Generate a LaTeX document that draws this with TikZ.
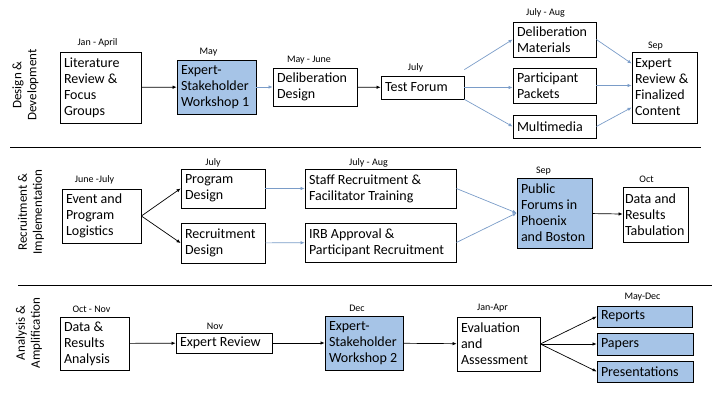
\documentclass[tikz,border=0pt]{standalone}
\usepackage{fontspec}
\setmainfont{Carlito}
\usetikzlibrary{arrows.meta,positioning}
\definecolor{wsblue}{RGB}{166,196,231}
\definecolor{flowblue}{RGB}{122,156,200}

\begin{document}
\begin{tikzpicture}[x=1pt, y=-1pt, font=\fontsize{14}{16}\selectfont]
\tikzstyle{box}=[rectangle, draw, line width=0.8pt, inner xsep=4pt, inner ysep=0pt, align=flush left, fill=white]
\tikzstyle{ws}=[box, fill=wsblue]
\tikzstyle{when}=[font=\fontsize{10}{12}\selectfont, inner sep=1pt]
\tikzstyle{phase}=[rotate=90, align=flush center, font=\fontsize{13}{15}\selectfont]
\tikzstyle{go}=[-{Latex[length=4pt,width=3.5pt]}, line width=0.7pt]
\tikzstyle{goblue}=[go, draw=flowblue]
\useasboundingbox (0,0) rectangle (720,405);

% Design & Development
\node[phase] (p1) at (25.5,85) {Design \&\\Development};
\node[box, text width=73pt, minimum height=71pt] (lit) at (100.5,87.5) {Literature\\Review \&\\Focus\\Groups};
\node[ws, text width=71pt, minimum height=54pt] (ws1) at (216.5,87) {Expert-\\Stakeholder\\Workshop 1};
\node[box, text width=76pt, minimum height=38pt] (dd) at (315,87) {Deliberation\\Design};
\node[box, text width=75pt, minimum height=23pt] (tf) at (422.5,87.5) {Test Forum};
\node[box, text width=75pt, minimum height=35pt] (dm) at (554.5,39.5) {Deliberation\\Materials};
\node[box, text width=75pt, minimum height=35pt] (pp) at (554.5,85.5) {Participant\\Packets};
\node[box, text width=75pt, minimum height=23pt] (mm) at (554.5,126.5) {Multimedia};
\node[box, text width=59pt, inner xsep=3pt, minimum height=71pt] (er) at (664.5,87.5) {Expert\\Review \&\\Finalized\\Content};
\node[when, above=3pt of lit, xshift=-3pt] {Jan - April};
\node[when, above=2pt of ws1, xshift=-8pt] {May};
\node[when, above=2pt of dd, xshift=-6pt] {May - June};
\node[when, above=2pt of tf, xshift=-7pt] {July};
\node[when, above=3pt of dm, xshift=-9pt] {July - Aug};
\node[when, above=0pt of er, xshift=-9pt] {Sep};
\draw[go] (lit) -- (ws1);
\draw[goblue] (ws1) -- (dd);
\draw[go] (dd) -- (tf);
\draw[goblue] ([yshift=6pt]tf.north east) -- (dm.west);
\draw[goblue] (tf) -- (pp.west |- tf);
\draw[goblue] (tf.south east) -- (mm.west);
\draw[goblue] (dm.east) -- ([yshift=24pt]er.west);
\draw[goblue] (pp.east) -- (pp.east -| er.west);
\draw[goblue] (mm.east) -- ([yshift=-20pt]er.west);
\draw[line width=0.8pt] (10,147) -- (701,147);

% Recruitment & Implementation
\node[phase] (p2) at (31,212) {Recruitment \&\\Implementation};
\node[box, text width=71pt, minimum height=54pt] (epl) at (101.5,216) {Event and\\Program\\Logistics};
\node[box, text width=76pt, minimum height=39pt] (pd) at (223,188.5) {Program\\Design};
\node[box, text width=76pt, minimum height=40pt] (rd) at (223,243) {Recruitment\\Design};
\node[box, text width=143pt, minimum height=39pt] (sr) at (380.5,188.5) {Staff Recruitment \&\\Facilitator Training};
\node[box, text width=143pt, minimum height=39pt] (irb) at (380.5,242.5) {IRB Approval \&\\Participant Recruitment};
\node[ws, text width=67pt, minimum height=70pt] (pf) at (554.5,213) {Public\\Forums in\\Phoenix\\and Boston};
\node[box, text width=61pt, inner xsep=2pt, minimum height=55pt] (drt) at (655.5,214.5) {Data and\\Results\\Tabulation};
\node[when, above=3pt of epl, xshift=-7pt] {June -July};
\node[when, above=0pt of pd, xshift=-10pt] {July};
\node[when, above=0pt of sr, xshift=-12pt] {July - Aug};
\node[when, above=1pt of pf, xshift=-11pt] {Sep};
\node[when, above=3pt of drt, xshift=-9pt] {Oct};
\draw[go] (epl.east) -- (pd.west);
\draw[go] (epl.east) -- (rd.west);
\draw[goblue] (pd) -- (sr);
\draw[goblue] (rd) -- (irb);
\draw[goblue] (sr.east) -- (pf.west);
\draw[goblue] (irb.east) -- (pf.west);
\draw[go] (pf) -- (drt);
\draw[line width=0.8pt] (18,285) -- (712,285);

% Analysis & Amplification
\node[phase] (p3) at (29,333) {Analysis \&\\Amplification};
\node[box, text width=61pt, minimum height=53pt] (dra) at (94.5,343.5) {Data \&\\Results\\Analysis};
\node[box, text width=88pt, minimum height=20pt] (exr) at (224,343) {Expert Review};
\node[ws, text width=70pt, minimum height=54pt] (ws2) at (364,343) {Expert-\\Stakeholder\\Workshop 2};
\node[box, text width=75pt, minimum height=54pt] (ea) at (498.5,344) {Evaluation\\and\\Assessment};
\node[ws, text width=87pt, minimum height=21pt] (rep) at (644.5,316.5) {Reports};
\node[ws, text width=88pt, minimum height=22pt] (pap) at (645,344) {Papers};
\node[ws, text width=88pt, minimum height=21pt] (pres) at (645,371.5) {Presentations};
\node[when, above=3pt of dra, xshift=-3pt] {Oct - Nov};
\node[when, above=2pt of exr, xshift=-9pt] {Nov};
\node[when, above=3pt of ws2, xshift=-7pt] {Dec};
\node[when, above=3pt of ea, xshift=-6pt] {Jan-Apr};
\node[when, above=3pt of rep, xshift=-2pt] {May-Dec};
\draw[go] (dra) -- (exr);
\draw[go] (exr) -- (ws2);
\draw[go] (ws2) -- (ea);
\draw[go] (ea.east) -- (rep.west);
\draw[go] (ea.east) -- (pap.west);
\draw[go] (ea.east) -- (pres.west);
\end{tikzpicture}
\end{document}
